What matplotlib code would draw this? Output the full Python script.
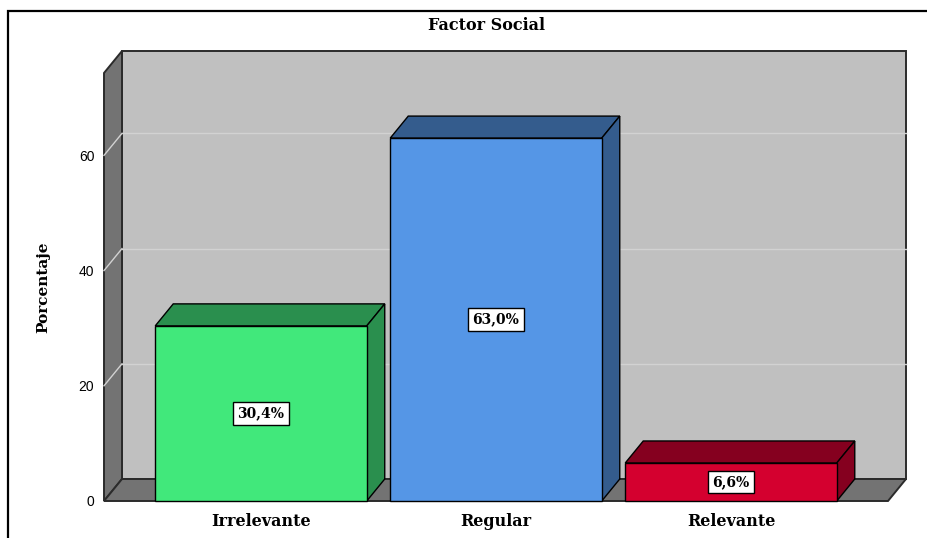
import numpy as np
import matplotlib.pyplot as plt
from matplotlib.patches import Polygon, Rectangle

# Datos del gráfico
categorias = ['Irrelevante', 'Regular', 'Relevante']
porcentajes = [30.4, 63.0, 6.6]
etiquetas = ['30,4%', '63,0%', '6,6%']
marcas_y = [0, 20, 40, 60]

color_frente = ['#41E87B', '#5596E6', '#D4002F']
color_sombra = ['#2A8F4E', '#345C8D', '#85001F']

serif = dict(family='DejaVu Serif', weight='bold')

fig = plt.figure(figsize=(9.28, 5.38), dpi=100)
ax = fig.add_axes([104/928, 37/538, 784/928, 428/538])
x0, x1 = -0.668, 2.668
ymax = 74.3
ax.set_xlim(x0, x1)
ax.set_ylim(0, ymax)
ax.patch.set_visible(False)
for s in ax.spines.values():
    s.set_visible(False)

# profundidad del efecto 3D (pixeles -> unidades de datos)
sx = ax.bbox.width / (x1 - x0)
sy = ax.bbox.height / ymax
ddx, ddy = 18 / sx, 22 / sy

gris_pared = '#C0C0C0'
gris_oscuro = '#737373'
borde = '#2b2b2b'

# pared del fondo, pared lateral y piso
ax.add_patch(Rectangle((x0 + ddx, ddy), x1 - x0, ymax, facecolor=gris_pared,
                       edgecolor=borde, lw=1.4, clip_on=False, zorder=1))
ax.add_patch(Polygon([(x0, 0), (x0, ymax), (x0 + ddx, ymax + ddy), (x0 + ddx, ddy)],
                     closed=True, facecolor=gris_oscuro, edgecolor=borde, lw=1.4,
                     clip_on=False, zorder=1))
ax.add_patch(Polygon([(x0, 0), (x1, 0), (x1 + ddx, ddy), (x0 + ddx, ddy)],
                     closed=True, facecolor=gris_oscuro, edgecolor=borde, lw=1.4,
                     clip_on=False, zorder=1))

# lineas de cuadricula
for v in marcas_y[1:]:
    ax.plot([x0 + ddx, x1 + ddx], [v + ddy, v + ddy], color='#D2D2D2', lw=1,
            clip_on=False, zorder=2)
    ax.plot([x0, x0 + ddx], [v, v + ddy], color='#D2D2D2', lw=1,
            clip_on=False, zorder=2)

# barras 3D
ancho = 0.9
pos = np.arange(len(categorias))
ax.bar(pos, porcentajes, width=ancho, color=color_frente, edgecolor='black',
       lw=1, clip_on=False, zorder=4)
for xi, v, c in zip(pos, porcentajes, color_sombra):
    l, r = xi - ancho / 2, xi + ancho / 2
    ax.add_patch(Polygon([(l, v), (r, v), (r + ddx, v + ddy), (l + ddx, v + ddy)],
                         closed=True, facecolor=c, edgecolor='black', lw=1,
                         clip_on=False, zorder=3))
    ax.add_patch(Polygon([(r, 0), (r, v), (r + ddx, v + ddy), (r + ddx, ddy)],
                         closed=True, facecolor=c, edgecolor='black', lw=1,
                         clip_on=False, zorder=3))

for xi, v, t in zip(pos, porcentajes, etiquetas):
    ax.text(xi, v / 2, t, ha='center', va='center', fontsize=10, zorder=5,
            bbox=dict(boxstyle='square,pad=0.3', facecolor='white',
                      edgecolor='black', lw=1), **serif)

# ejes
ax.set_yticks(marcas_y)
ax.set_yticklabels([str(m) for m in marcas_y], family='Liberation Sans', fontsize=10)
ax.set_xticks(pos)
ax.set_xticklabels(categorias, fontsize=11.5, **serif)
ax.tick_params(axis='y', length=0, pad=7)
ax.tick_params(axis='x', length=0, pad=9)
ax.set_ylabel('Porcentaje', fontsize=11, **serif)
ax.yaxis.set_label_coords(-0.069, 0.5)

fig.text(487/928, 1 - 26/538, 'Factor Social', ha='center', va='center',
         fontsize=11.5, **serif)

# marco exterior
fig.add_artist(Rectangle((8/928, -0.2), 1.2, 1.2 - 11/538,
                         transform=fig.transFigure, fill=False,
                         edgecolor='black', lw=1.6))

fig.savefig('out.png', dpi=100, facecolor='white')
